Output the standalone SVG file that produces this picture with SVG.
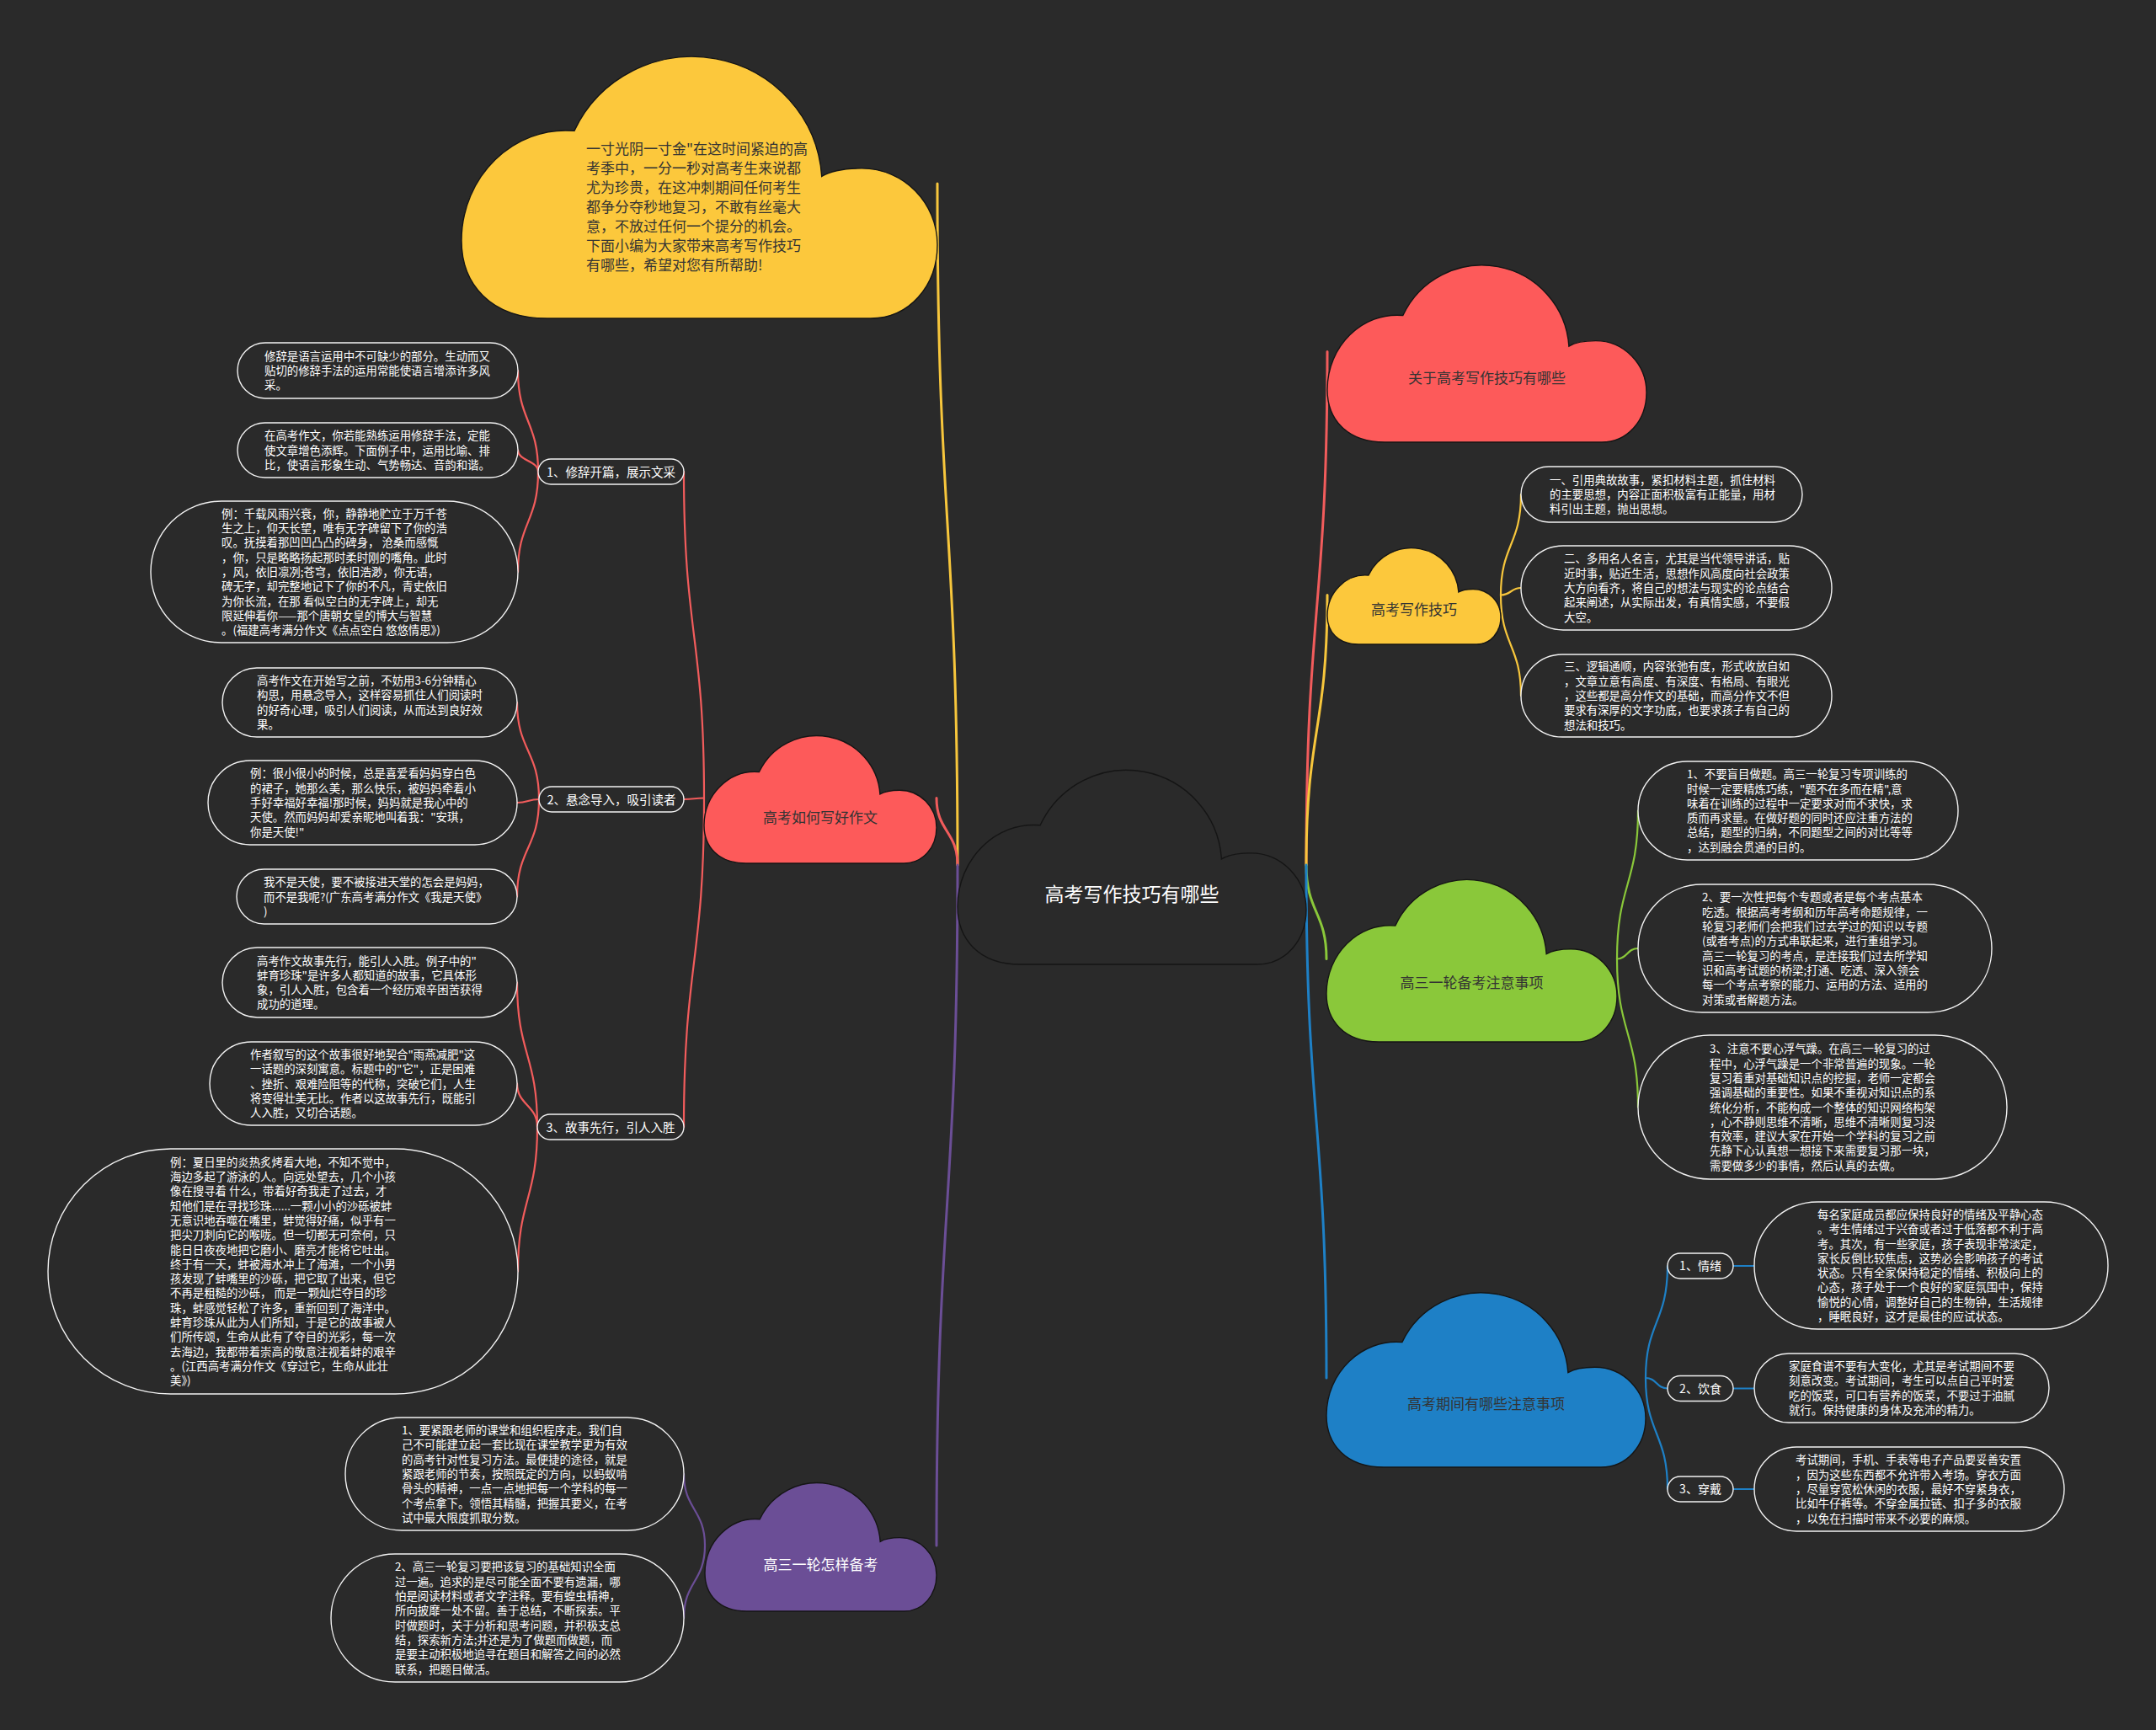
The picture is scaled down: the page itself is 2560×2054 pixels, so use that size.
<svg xmlns="http://www.w3.org/2000/svg" xmlns:xlink="http://www.w3.org/1999/xlink" width="2560" height="2054" viewBox="0 0 2560 2054">
<defs>
<style>
.bg{fill:#2a2a2a}
.cloud{stroke:#151515;stroke-width:1.4}
.ct{font-family:'Noto Sans CJK SC','Noto Sans',sans-serif;font-size:17px;fill:#333;text-anchor:middle}
.ctw{fill:#fff}
.leaf{fill:#2a2a2a;stroke:#f2f2f2;stroke-width:1.4}
.lt{font-family:'Noto Sans CJK SC','Noto Sans',sans-serif;font-size:13.4px;fill:#fff}
.lab{font-family:'Noto Sans CJK SC','Noto Sans',sans-serif;font-size:14.5px;fill:#fff;text-anchor:middle}
.c{fill:none;stroke-linecap:round}
.m{stroke-width:3}
.s{stroke-width:2.2}
.red{stroke:#f25c5c}
.yel{stroke:#f7c63c}
.pur{stroke:#6b4e96}
.grn{stroke:#8ac83a}
.blu{stroke:#1e80c6}
</style>
<path id="cl" vector-effect="non-scaling-stroke" d="M180 1000 C60 1000 0 870 0 710 C0 470 110 280 237 300 A273 479 0 0 1 757 470 C780 445 810 440 841 440 C930 440 1000 570 1000 725 C1000 880 940 1000 860 1000 Z"/>
</defs>
<rect class="bg" x="0" y="0" width="2560" height="2054"/>

<g id="connectors">
<path class="c m yel" d="M1137 1027 C1137 622 1113 622 1113 218"/>
<path class="c m red" d="M1137 1027 C1137 987 1112 987 1112 947.5"/>
<path class="c m pur" d="M1137 1027 C1137 1431 1112 1431 1112 1835"/>
<path class="c m red" d="M1551 1027 C1551 722 1576 722 1576 417.5"/>
<path class="c m yel" d="M1551 1027 C1551 867 1576 867 1576 706.5"/>
<path class="c m grn" d="M1551 1027 C1551 1083 1575 1083 1575 1138.5"/>
<path class="c m blu" d="M1551 1027 C1551 1331 1575 1331 1575 1636"/>
<path class="c s red" d="M836 947.5 C836 754 812 754 812 560"/>
<path class="c s red" d="M836 947.5 C824 947.5 824 949 812 949"/>
<path class="c s red" d="M836 947.5 C836 1143 812 1143 812 1338"/>
<path class="c s red" d="M639 560 C639 500 615 500 615 440"/>
<path class="c s red" d="M639 560 C639 547 615 547 615 534.5"/>
<path class="c s red" d="M639 560 C639 620 615 620 615 679"/>
<path class="c s red" d="M640 949 C640 891 614 891 614 834"/>
<path class="c s red" d="M640 949 C627 949 627 953 614 953"/>
<path class="c s red" d="M640 949 C640 1007 614 1007 614 1064.5"/>
<path class="c s red" d="M638 1338 C638 1252 614 1252 614 1166.5"/>
<path class="c s red" d="M638 1338 C638 1312 614 1312 614 1286.5"/>
<path class="c s red" d="M638 1338 C638 1424 615 1424 615 1509.5"/>
<path class="c s pur" d="M837 1835 C837 1792 812 1792 812 1750"/>
<path class="c s pur" d="M837 1835 C837 1878 812 1878 812 1921"/>
<path class="c s yel" d="M1782 706.5 C1782 647 1806 647 1806 587"/>
<path class="c s yel" d="M1782 706.5 C1794 706.5 1794 698 1806 698"/>
<path class="c s yel" d="M1782 706.5 C1782 766 1806 766 1806 826"/>
<path class="c s grn" d="M1920 1138.5 C1920 1050 1945 1050 1945 962.5"/>
<path class="c s grn" d="M1920 1138.5 C1932 1138.5 1932 1126 1945 1126"/>
<path class="c s grn" d="M1920 1138.5 C1920 1226 1945 1226 1945 1314.5"/>
<path class="c s blu" d="M1954 1636 C1954 1570 1980 1570 1980 1503"/>
<path class="c s blu" d="M1954 1636 C1967 1636 1967 1648.5 1980 1648.5"/>
<path class="c s blu" d="M1954 1636 C1954 1702 1980 1702 1980 1768"/>
<path class="c s blu" d="M2058 1503 L2083 1503"/>
<path class="c s blu" d="M2058 1648.5 L2083 1648.5"/>
<path class="c s blu" d="M2058 1768 L2083 1768"/>
</g>

<g id="central">
<use xlink:href="#cl" href="#cl" class="cloud" fill="#2a2a2a" stroke="#0e0e0e" transform="translate(1137 909) scale(0.414 0.236)"/>
<text class="ct ctw" x="1344" y="1069.5" style="font-size:23px">高考写作技巧有哪些</text>
</g>

<g id="intro">
<use xlink:href="#cl" href="#cl" class="cloud" fill="#fcc83c" transform="translate(548 60) scale(0.565 0.318)"/>
<text class="ct" style="text-anchor:start" x="696" y="182.5">
<tspan x="696">一寸光阴一寸金"在这时间紧迫的高</tspan>
<tspan x="696" dy="23">考季中，一分一秒对高考生来说都</tspan>
<tspan x="696" dy="23">尤为珍贵，在这冲刺期间任何考生</tspan>
<tspan x="696" dy="23">都争分夺秒地复习，不敢有丝毫大</tspan>
<tspan x="696" dy="23">意，不放过任何一个提分的机会。</tspan>
<tspan x="696" dy="23">下面小编为大家带来高考写作技巧</tspan>
<tspan x="696" dy="23">有哪些，希望对您有所帮助!</tspan>
</text>
</g>

<g id="b-writing">
<use xlink:href="#cl" href="#cl" class="cloud" fill="#fd5a5a" transform="translate(836 870) scale(0.276 0.155)"/>
<text class="ct" x="974" y="976.5">高考如何写好作文</text>
</g>

<g id="lab1">
<rect class="leaf" x="639" y="545" width="173" height="30" rx="15"/>
<text class="lab" x="725.5" y="565.5">1、修辞开篇，展示文采</text>
</g>
<g id="l1a">
<rect class="leaf" x="282" y="407" width="333" height="66" rx="33"/>
<text class="lt" x="314" y="427.7"><tspan x="314">修辞是语言运用中不可缺少的部分。生动而又</tspan><tspan x="314" dy="17.3">贴切的修辞手法的运用常能使语言增添许多风</tspan><tspan x="314" dy="17.3">采。</tspan></text>
</g>
<g id="l1b">
<rect class="leaf" x="282" y="502" width="333" height="65" rx="32.5"/>
<text class="lt" x="314" y="522.2"><tspan x="314">在高考作文，你若能熟练运用修辞手法，定能</tspan><tspan x="314" dy="17.3">使文章增色添辉。下面例子中，运用比喻、排</tspan><tspan x="314" dy="17.3">比，使语言形象生动、气势畅达、音韵和谐。</tspan></text>
</g>
<g id="l1c">
<rect class="leaf" x="179" y="595" width="436" height="168" rx="84"/>
<text class="lt" x="263" y="614.8"><tspan x="263">例：千载风雨兴衰，你，静静地贮立于万千苍</tspan><tspan x="263" dy="17.3">生之上，仰天长望，唯有无字碑留下了你的浩</tspan><tspan x="263" dy="17.3">叹。抚摸着那凹凹凸凸的碑身， 沧桑而感慨</tspan><tspan x="263" dy="17.3">，你，只是略略扬起那时柔时刚的嘴角。此时</tspan><tspan x="263" dy="17.3">，风，依旧凛冽;苍穹，依旧浩渺，你无语，</tspan><tspan x="263" dy="17.3">碑无字，却完整地记下了你的不凡，青史依旧</tspan><tspan x="263" dy="17.3">为你长流，在那 看似空白的无字碑上，却无</tspan><tspan x="263" dy="17.3">限延伸着你——那个唐朝女皇的博大与智慧</tspan><tspan x="263" dy="17.3">。(福建高考满分作文《点点空白 悠悠情思》)</tspan></text>
</g>

<g id="lab2">
<rect class="leaf" x="640" y="934" width="172" height="30" rx="15"/>
<text class="lab" x="726" y="954.5">2、悬念导入，吸引读者</text>
</g>
<g id="l2a">
<rect class="leaf" x="264" y="793" width="350" height="82" rx="41"/>
<text class="lt" x="305" y="813"><tspan x="305">高考作文在开始写之前，不妨用3-6分钟精心</tspan><tspan x="305" dy="17.3">构思，用悬念导入，这样容易抓住人们阅读时</tspan><tspan x="305" dy="17.3">的好奇心理，吸引人们阅读，从而达到良好效</tspan><tspan x="305" dy="17.3">果。</tspan></text>
</g>
<g id="l2b">
<rect class="leaf" x="247" y="903" width="367" height="100" rx="50"/>
<text class="lt" x="297" y="923.4"><tspan x="297">例：很小很小的时候，总是喜爱看妈妈穿白色</tspan><tspan x="297" dy="17.3">的裙子，她那么美，那么快乐，被妈妈牵着小</tspan><tspan x="297" dy="17.3">手好幸福好幸福!那时候，妈妈就是我心中的</tspan><tspan x="297" dy="17.3">天使。然而妈妈却爱亲昵地叫着我："安琪，</tspan><tspan x="297" dy="17.3">你是天使!"</tspan></text>
</g>
<g id="l2c">
<rect class="leaf" x="281" y="1032" width="333" height="65" rx="32.5"/>
<text class="lt" x="313" y="1052.2"><tspan x="313">我不是天使，要不被接进天堂的怎会是妈妈，</tspan><tspan x="313" dy="17.3">而不是我呢?(广东高考满分作文《我是天使》</tspan><tspan x="313" dy="17.3">)</tspan></text>
</g>

<g id="lab3">
<rect class="leaf" x="638" y="1323" width="174" height="30" rx="15"/>
<text class="lab" x="725" y="1343.5">3、故事先行，引人入胜</text>
</g>
<g id="l3a">
<rect class="leaf" x="264" y="1125" width="350" height="83" rx="41.5"/>
<text class="lt" x="305" y="1145.5"><tspan x="305">高考作文故事先行，能引人入胜。例子中的"</tspan><tspan x="305" dy="17.3">蚌育珍珠"是许多人都知道的故事，它具体形</tspan><tspan x="305" dy="17.3">象，引人入胜，包含着一个经历艰辛困苦获得</tspan><tspan x="305" dy="17.3">成功的道理。</tspan></text>
</g>
<g id="l3b">
<rect class="leaf" x="249" y="1237" width="365" height="99" rx="49.5"/>
<text class="lt" x="297" y="1256.9"><tspan x="297">作者叙写的这个故事很好地契合"雨燕减肥"这</tspan><tspan x="297" dy="17.3">一话题的深刻寓意。标题中的"它"，正是困难</tspan><tspan x="297" dy="17.3">、挫折、艰难险阻等的代称，突破它们，人生</tspan><tspan x="297" dy="17.3">将变得壮美无比。作者以这故事先行，既能引</tspan><tspan x="297" dy="17.3">人入胜，又切合话题。</tspan></text>
</g>
<g id="l3c">
<rect class="leaf" x="57" y="1364" width="558" height="291" rx="145.5"/>
<text class="lt" x="202" y="1384.75"><tspan x="202">例：夏日里的炎热炙烤着大地，不知不觉中，</tspan><tspan x="202" dy="17.3">海边多起了游泳的人。向远处望去，几个小孩</tspan><tspan x="202" dy="17.3">像在搜寻着 什么，带着好奇我走了过去，才</tspan><tspan x="202" dy="17.3">知他们是在寻找珍珠......一颗小小的沙砾被蚌</tspan><tspan x="202" dy="17.3">无意识地吞噬在嘴里，蚌觉得好痛，似乎有一</tspan><tspan x="202" dy="17.3">把尖刀刺向它的喉咙。但一切都无可奈何，只</tspan><tspan x="202" dy="17.3">能日日夜夜地把它磨小、磨亮才能将它吐出。</tspan><tspan x="202" dy="17.3">终于有一天，蚌被海水冲上了海滩，一个小男</tspan><tspan x="202" dy="17.3">孩发现了蚌嘴里的沙砾，把它取了出来，但它</tspan><tspan x="202" dy="17.3">不再是粗糙的沙砾， 而是一颗灿烂夺目的珍</tspan><tspan x="202" dy="17.3">珠，蚌感觉轻松了许多，重新回到了海洋中。</tspan><tspan x="202" dy="17.3">蚌育珍珠从此为人们所知，于是它的故事被人</tspan><tspan x="202" dy="17.3">们所传颂，生命从此有了夺目的光彩，每一次</tspan><tspan x="202" dy="17.3">去海边，我都带着崇高的敬意注视着蚌的艰辛</tspan><tspan x="202" dy="17.3">。(江西高考满分作文《穿过它，生命从此壮</tspan><tspan x="202" dy="17.3">美》)</tspan></text>
</g>

<g id="b-review">
<use xlink:href="#cl" href="#cl" class="cloud" fill="#6b4e96" transform="translate(837 1757) scale(0.275 0.156)"/>
<text class="ct ctw" x="974.5" y="1864">高三一轮怎样备考</text>
</g>
<g id="p1">
<rect class="leaf" x="410" y="1683" width="402" height="134" rx="67"/>
<text class="lt" x="477" y="1703.1"><tspan x="477">1、要紧跟老师的课堂和组织程序走。我们自</tspan><tspan x="477" dy="17.3">己不可能建立起一套比现在课堂教学更为有效</tspan><tspan x="477" dy="17.3">的高考针对性复习方法。最便捷的途径，就是</tspan><tspan x="477" dy="17.3">紧跟老师的节奏，按照既定的方向，以蚂蚁啃</tspan><tspan x="477" dy="17.3">骨头的精神，一点一点地把每一个学科的每一</tspan><tspan x="477" dy="17.3">个考点拿下。领悟其精髓，把握其要义，在考</tspan><tspan x="477" dy="17.3">试中最大限度抓取分数。</tspan></text>
</g>
<g id="p2">
<rect class="leaf" x="393" y="1845" width="419" height="152" rx="76"/>
<text class="lt" x="469" y="1865.45"><tspan x="469">2、高三一轮复习要把该复习的基础知识全面</tspan><tspan x="469" dy="17.3">过一遍。追求的是尽可能全面不要有遗漏，哪</tspan><tspan x="469" dy="17.3">怕是阅读材料或者文字注释。要有蝗虫精神，</tspan><tspan x="469" dy="17.3">所向披靡一处不留。善于总结，不断探索。平</tspan><tspan x="469" dy="17.3">时做题时，关于分析和思考问题，并积极支总</tspan><tspan x="469" dy="17.3">结，探索新方法;并还是为了做题而做题，而</tspan><tspan x="469" dy="17.3">是要主动积极地追寻在题目和解答之间的必然</tspan><tspan x="469" dy="17.3">联系，把题目做活。</tspan></text>
</g>

<g id="b-about">
<use xlink:href="#cl" href="#cl" class="cloud" fill="#fd5a5a" transform="translate(1576 310) scale(0.379 0.215)"/>
<text class="ct" x="1765.5" y="455">关于高考写作技巧有哪些</text>
</g>

<g id="b-skills">
<use xlink:href="#cl" href="#cl" class="cloud" fill="#fcc83c" transform="translate(1576 648) scale(0.206 0.117)"/>
<text class="ct" x="1679" y="729.8">高考写作技巧</text>
</g>
<g id="r1a">
<rect class="leaf" x="1806" y="554" width="334" height="66" rx="33"/>
<text class="lt" x="1840" y="574.7"><tspan x="1840">一、引用典故故事，紧扣材料主题，抓住材料</tspan><tspan x="1840" dy="17.3">的主要思想，内容正面积极富有正能量，用材</tspan><tspan x="1840" dy="17.3">料引出主题，抛出思想。</tspan></text>
</g>
<g id="r1b">
<rect class="leaf" x="1806" y="648" width="369" height="100" rx="50"/>
<text class="lt" x="1857" y="668.4"><tspan x="1857">二、多用名人名言，尤其是当代领导讲话，贴</tspan><tspan x="1857" dy="17.3">近时事，贴近生活，思想作风高度向社会政策</tspan><tspan x="1857" dy="17.3">大方向看齐，将自己的想法与现实的论点结合</tspan><tspan x="1857" dy="17.3">起来阐述，从实际出发，有真情实感，不要假</tspan><tspan x="1857" dy="17.3">大空。</tspan></text>
</g>
<g id="r1c">
<rect class="leaf" x="1806" y="777" width="369" height="98" rx="49"/>
<text class="lt" x="1857" y="796.4"><tspan x="1857">三、逻辑通顺，内容张弛有度，形式收放自如</tspan><tspan x="1857" dy="17.3">，文章立意有高度、有深度、有格局、有眼光</tspan><tspan x="1857" dy="17.3">，这些都是高分作文的基础，而高分作文不但</tspan><tspan x="1857" dy="17.3">要求有深厚的文字功底，也要求孩子有自己的</tspan><tspan x="1857" dy="17.3">想法和技巧。</tspan></text>
</g>

<g id="b-notes">
<use xlink:href="#cl" href="#cl" class="cloud" fill="#8ac83a" transform="translate(1575 1040) scale(0.345 0.197)"/>
<text class="ct" x="1747.5" y="1173.4">高三一轮备考注意事项</text>
</g>
<g id="g1">
<rect class="leaf" x="1945" y="904" width="380" height="117" rx="58.5"/>
<text class="lt" x="2003" y="924.25"><tspan x="2003">1、不要盲目做题。高三一轮复习专项训练的</tspan><tspan x="2003" dy="17.3">时候一定要精炼巧练，"题不在多而在精",意</tspan><tspan x="2003" dy="17.3">味着在训练的过程中一定要求对而不求快，求</tspan><tspan x="2003" dy="17.3">质而再求量。在做好题的同时还应注重方法的</tspan><tspan x="2003" dy="17.3">总结，题型的归纳，不同题型之间的对比等等</tspan><tspan x="2003" dy="17.3">，达到融会贯通的目的。</tspan></text>
</g>
<g id="g2">
<rect class="leaf" x="1945" y="1050" width="420" height="152" rx="76"/>
<text class="lt" x="2021" y="1070.45"><tspan x="2021">2、要一次性把每个专题或者是每个考点基本</tspan><tspan x="2021" dy="17.3">吃透。根据高考考纲和历年高考命题规律，一</tspan><tspan x="2021" dy="17.3">轮复习老师们会把我们过去学过的知识以专题</tspan><tspan x="2021" dy="17.3">(或者考点)的方式串联起来，进行重组学习。</tspan><tspan x="2021" dy="17.3">高三一轮复习的考点，是连接我们过去所学知</tspan><tspan x="2021" dy="17.3">识和高考试题的桥梁;打通、吃透、深入领会</tspan><tspan x="2021" dy="17.3">每一个考点考察的能力、运用的方法、适用的</tspan><tspan x="2021" dy="17.3">对策或者解题方法。</tspan></text>
</g>
<g id="g3">
<rect class="leaf" x="1945" y="1229" width="438" height="171" rx="85.5"/>
<text class="lt" x="2030" y="1250.3"><tspan x="2030">3、注意不要心浮气躁。在高三一轮复习的过</tspan><tspan x="2030" dy="17.3">程中，心浮气躁是一个非常普遍的现象。一轮</tspan><tspan x="2030" dy="17.3">复习着重对基础知识点的挖掘，老师一定都会</tspan><tspan x="2030" dy="17.3">强调基础的重要性。如果不重视对知识点的系</tspan><tspan x="2030" dy="17.3">统化分析，不能构成一个整体的知识网络构架</tspan><tspan x="2030" dy="17.3">，心不静则思维不清晰，思维不清晰则复习没</tspan><tspan x="2030" dy="17.3">有效率，建议大家在开始一个学科的复习之前</tspan><tspan x="2030" dy="17.3">先静下心认真想一想接下来需要复习那一块，</tspan><tspan x="2030" dy="17.3">需要做多少的事情，然后认真的去做。</tspan></text>
</g>

<g id="b-exam">
<use xlink:href="#cl" href="#cl" class="cloud" fill="#1e80c6" transform="translate(1575 1530) scale(0.379 0.212)"/>
<text class="ct" x="1764.5" y="1673">高考期间有哪些注意事项</text>
</g>
<g id="bl1">
<rect class="leaf" x="1980" y="1488" width="78" height="30" rx="15"/>
<text class="lab" style="font-size:14px" x="2019" y="1508.3">1、情绪</text>
</g>
<g id="bl2">
<rect class="leaf" x="1980" y="1633.5" width="78" height="30" rx="15"/>
<text class="lab" style="font-size:14px" x="2019" y="1653.8">2、饮食</text>
</g>
<g id="bl3">
<rect class="leaf" x="1980" y="1753" width="78" height="30" rx="15"/>
<text class="lab" style="font-size:14px" x="2019" y="1773.3">3、穿戴</text>
</g>
<g id="b1">
<rect class="leaf" x="2083" y="1427" width="420" height="151" rx="75.5"/>
<text class="lt" x="2158" y="1446.95"><tspan x="2158">每名家庭成员都应保持良好的情绪及平静心态</tspan><tspan x="2158" dy="17.3">。考生情绪过于兴奋或者过于低落都不利于高</tspan><tspan x="2158" dy="17.3">考。其次，有一些家庭，孩子表现非常淡定，</tspan><tspan x="2158" dy="17.3">家长反倒比较焦虑，这势必会影响孩子的考试</tspan><tspan x="2158" dy="17.3">状态。只有全家保持稳定的情绪、积极向上的</tspan><tspan x="2158" dy="17.3">心态，孩子处于一个良好的家庭氛围中，保持</tspan><tspan x="2158" dy="17.3">愉悦的心情，调整好自己的生物钟，生活规律</tspan><tspan x="2158" dy="17.3">，睡眠良好，这才是最佳的应试状态。</tspan></text>
</g>
<g id="b2">
<rect class="leaf" x="2083" y="1607" width="350" height="82" rx="41"/>
<text class="lt" x="2124" y="1627.05"><tspan x="2124">家庭食谱不要有大变化，尤其是考试期间不要</tspan><tspan x="2124" dy="17.3">刻意改变。考试期间，考生可以点自己平时爱</tspan><tspan x="2124" dy="17.3">吃的饭菜，可口有营养的饭菜，不要过于油腻</tspan><tspan x="2124" dy="17.3">就行。保持健康的身体及充沛的精力。</tspan></text>
</g>
<g id="b3">
<rect class="leaf" x="2083" y="1718" width="368" height="100" rx="50"/>
<text class="lt" x="2132" y="1738.4"><tspan x="2132">考试期间，手机、手表等电子产品要妥善安置</tspan><tspan x="2132" dy="17.3">，因为这些东西都不允许带入考场。穿衣方面</tspan><tspan x="2132" dy="17.3">，尽量穿宽松休闲的衣服，最好不穿紧身衣，</tspan><tspan x="2132" dy="17.3">比如牛仔裤等。不穿金属拉链、扣子多的衣服</tspan><tspan x="2132" dy="17.3">，以免在扫描时带来不必要的麻烦。</tspan></text>
</g>
</svg>
